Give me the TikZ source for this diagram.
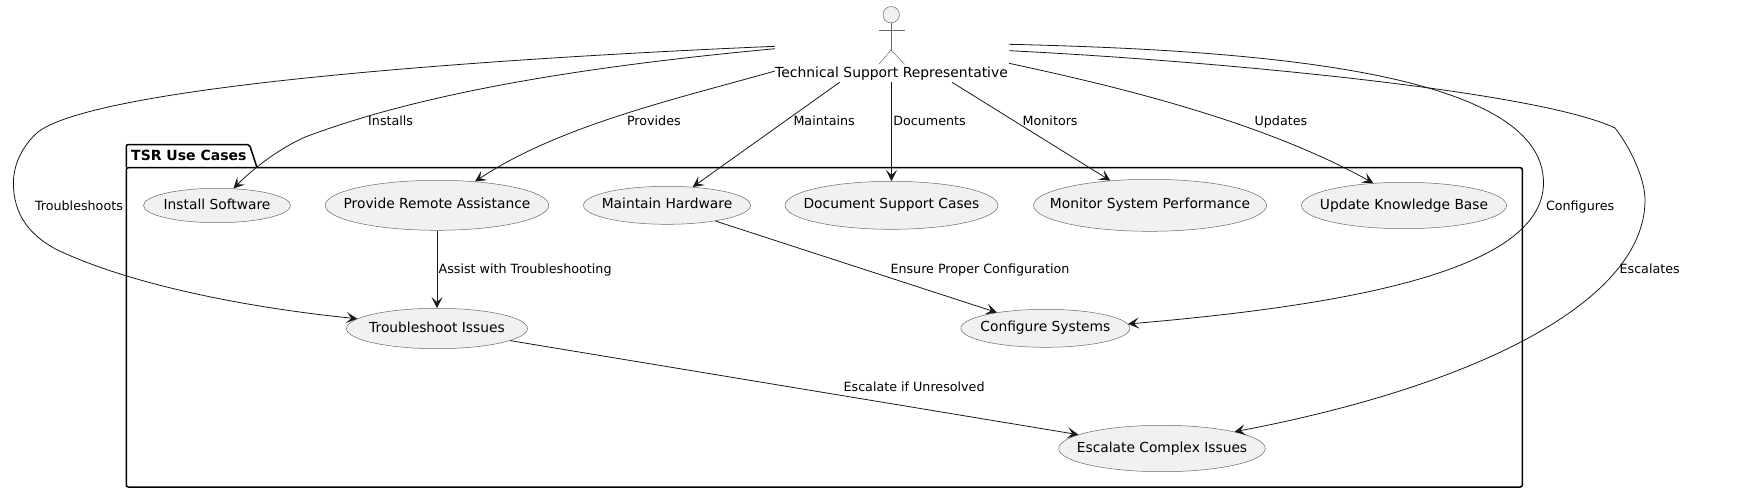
\documentclass[tikz,border=0pt]{standalone}
\usepackage{fontspec}
\setmainfont{DejaVu Sans}
\usetikzlibrary{arrows.meta,positioning,shapes.geometric}

\definecolor{lineInk}{HTML}{181818}
\definecolor{caseFill}{HTML}{F1F1F1}
\newcommand{\caseText}[1]{\makebox[0pt]{#1}}

\begin{document}
\begin{tikzpicture}[
        x=1pt,
        y=-1pt,
        useCase/.style={
            ellipse,
            draw=lineInk!65,
            line width=0.5pt,
            fill=caseFill,
            inner sep=0pt,
            text height=10pt,
            text depth=3pt,
            font=\fontsize{13.8}{16}\selectfont
        },
        actorLine/.style={
            draw=lineInk!65,
            line width=0.5pt
        },
        packageLine/.style={
            draw=black,
            line width=1.5pt,
            line join=round,
            rounded corners=2pt
        },
        flowEdge/.style={
            -{Stealth[length=11pt,width=11pt,inset=5pt]},
            draw=lineInk,
            line width=0.8pt
        },
        edgeLabel/.style={
            anchor=west,
            inner sep=0pt,
            text height=10pt,
            text depth=3pt,
            font=\fontsize{12.7}{15}\selectfont
        }
    ]

        \useasboundingbox (0,0) rectangle (1745,493);

        % Package frame
        \draw[packageLine]
            (126.3,167.7) -- (126.3,144.5) -- (249.5,144.5) -- (257,167.7);
        \draw[packageLine]
            (126.3,167.7) -- (1522.3,167.7) -- (1522.3,487) -- (126.3,487) -- cycle;
        \node[
            anchor=west,
            inner sep=0pt,
            font=\fontsize{14}{16}\selectfont\bfseries
        ] (packageTitle) at (131,155) {TSR Use Cases};

        % Actor figure
        \node[
            circle,
            actorLine,
            fill=caseFill,
            inner sep=0pt,
            minimum size=16.4pt
        ] (actorHead) at (891.2,14.7) {};
        \coordinate (actorHip) at (891.2,50);
        \draw[actorLine] (actorHead.south) -- (actorHip);
        \draw[actorLine] (878.6,30.3) -- (904.6,30.3);
        \draw[actorLine] (878.6,64.3) -- (actorHip) -- (904.6,64.3);
        \node[
            inner sep=0pt,
            text height=10pt,
            text depth=3pt,
            font=\fontsize{13.9}{16}\selectfont
        ] (tsr) at (891.5,73.5) {Technical Support Representative};

        % Use cases
        \node[useCase, minimum width=147pt, minimum height=34.4pt] (installSw) at (217,205.5) {\caseText{Install Software}};
        \node[useCase, minimum width=223.5pt, minimum height=50pt] (provideRemote) at (437,205.3) {\caseText{Provide Remote Assistance}};
        \node[useCase, minimum width=167pt, minimum height=38pt] (maintainHw) at (667,205.3) {\caseText{Maintain Hardware}};
        \node[useCase, minimum width=213pt, minimum height=48pt] (documentCases) at (891.5,205.3) {\caseText{Document Support Cases}};
        \node[useCase, minimum width=233pt, minimum height=52pt] (monitorPerf) at (1150,205.3) {\caseText{Monitor System Performance}};
        \node[useCase, minimum width=205pt, minimum height=46.4pt] (updateKb) at (1404,205.5) {\caseText{Update Knowledge Base}};
        \node[useCase, minimum width=181pt, minimum height=40.4pt] (troubleshootIssues) at (437,328.5) {\caseText{Troubleshoot Issues}};
        \node[useCase, minimum width=169pt, minimum height=38pt] (configureSys) at (1045.4,328.3) {\caseText{Configure Systems}};
        \node[useCase, minimum width=206.6pt, minimum height=46.4pt] (escalateIssues) at (1162,448.5) {\caseText{Escalate Complex Issues}};

        % Free ends at the actor
        \coordinate (outTroubleshoots) at (775,46.3);
        \coordinate (outInstalls) at (775,48.7);
        \coordinate (outProvides) at (775,71);
        \coordinate (outMaintains) at (839.6,82.3);
        \coordinate (outDocuments) at (891.5,82.3);
        \coordinate (outMonitors) at (952,82.3);
        \coordinate (outConfigures) at (1009,44.3);
        \coordinate (outEscalates) at (1009,50.7);
        \coordinate (outUpdates) at (1009,63.3);

        % Actor to use cases
        \draw[flowEdge] (outTroubleshoots)
            .. controls (500,58) and (100,85) .. (38,132)
            .. controls (22,146) and (13.4,165) .. (13.4,183)
            .. controls (13.4,215) and (30,235) .. (55.5,249)
            .. controls (130,285) and (250,308) .. (troubleshootIssues.173.5);
        \draw[flowEdge] (outInstalls)
            .. controls (600,65) and (430,90) .. (306,136.7)
            .. controls (280,148) and (255,167) .. (installSw.46);
        \draw[flowEdge] (outProvides)
            .. controls (680,98) and (560,125) .. (provideRemote.32);
        \draw[flowEdge] (outMaintains) -- (maintainHw);
        \draw[flowEdge] (outDocuments) -- (documentCases);
        \draw[flowEdge] (outMonitors) -- (monitorPerf);
        \draw[flowEdge] (outUpdates)
            .. controls (1110,85) and (1260,120) .. (updateKb.144.5);
        \draw[flowEdge] (outConfigures)
            .. controls (1250,50) and (1543.5,70) .. (1543.5,182.7)
            .. controls (1543.5,270) and (1350,305) .. (configureSys.3.5);
        \draw[flowEdge] (outEscalates)
            .. controls (1200,60) and (1535,90) .. (1615,128)
            .. controls (1632,150) and (1645,180) .. (1645,200)
            .. controls (1645,300) and (1480,385) .. (escalateIssues.13.2);

        % Use case to use case
        \draw[flowEdge] (provideRemote) -- (troubleshootIssues);
        \draw[flowEdge] (maintainHw) -- (configureSys);
        \draw[flowEdge] (troubleshootIssues) -- (escalateIssues);

        % Edge labels
        \node[edgeLabel] (lblInstalls) at (368,121.5) {Installs};
        \node[edgeLabel] (lblProvides) at (626.8,121.5) {Provides};
        \node[edgeLabel] (lblMaintains) at (793.3,121.5) {Maintains};
        \node[edgeLabel] (lblDocuments) at (893.1,121.5) {Documents};
        \node[edgeLabel] (lblMonitors) at (1022.5,121.5) {Monitors};
        \node[edgeLabel] (lblUpdates) at (1254.4,121.5) {Updates};
        \node[edgeLabel] (lblTroubleshoots) at (34.8,206.7) {Troubleshoots};
        \node[edgeLabel] (lblConfigures) at (1545.8,206.7) {Configures};
        \node[edgeLabel] (lblEscalates) at (1619.4,270.3) {Escalates};
        \node[edgeLabel] (lblAssist) at (438.4,270.3) {Assist with Troubleshooting};
        \node[edgeLabel] (lblEnsure) at (890.3,270.3) {Ensure Proper Configuration};
        \node[edgeLabel] (lblEscalateIf) at (843.4,388.3) {Escalate if Unresolved};

    \end{tikzpicture}
\end{document}
